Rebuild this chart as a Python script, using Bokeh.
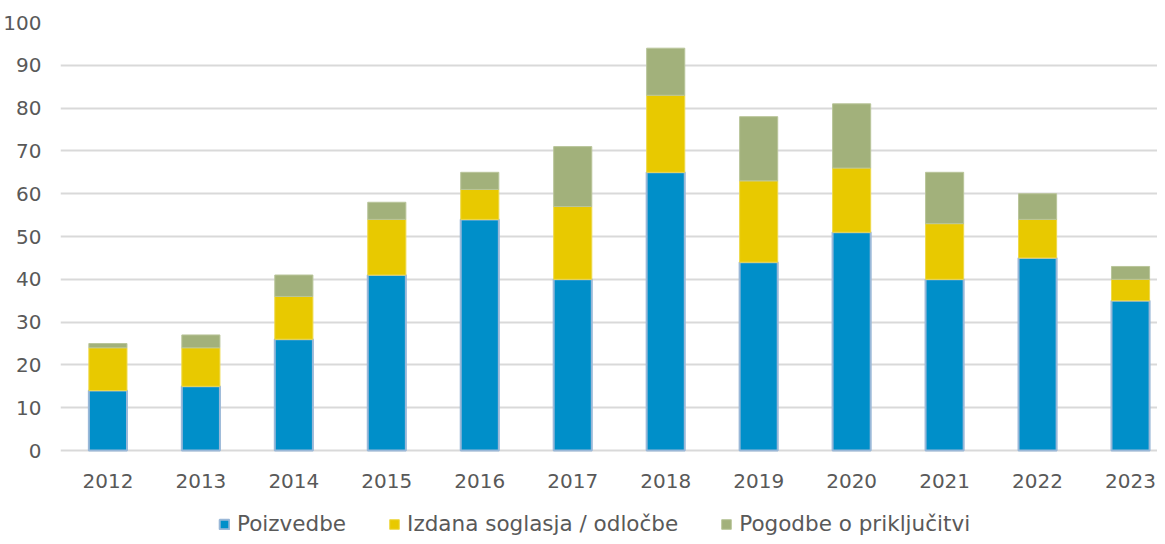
from bokeh.plotting import figure
from bokeh.models import ColumnDataSource, Legend, LegendItem, FixedTicker
from bokeh.core.properties import value
from bokeh.embed import file_html
from bokeh.resources import INLINE

years = ["2012", "2013", "2014", "2015", "2016", "2017", "2018", "2019", "2020", "2021", "2022", "2023"]
poizvedbe = [14, 15, 26, 41, 54, 40, 65, 44, 51, 40, 45, 35]
izdana = [10, 9, 10, 13, 7, 17, 18, 19, 15, 13, 9, 5]
pogodbe = [1, 3, 5, 4, 4, 14, 11, 15, 15, 12, 6, 3]
series_names = ["Poizvedbe", "Izdana soglasja / odločbe", "Pogodbe o priključitvi"]
y_ticks = [0, 10, 20, 30, 40, 50, 60, 70, 80, 90, 100]

FONT = "DejaVu Sans"
TXT = "#595959"

xs = list(range(len(years)))
src = ColumnDataSource(dict(x=xs, a=poizvedbe, b=izdana, c=pogodbe, year=years))

# frame spans from the top gridline to the bottom of the page; the area below 0
# holds the category labels and the legend
p = figure(width=1157, height=536,
           min_border_left=59, min_border_top=22, min_border_right=0, min_border_bottom=0,
           x_range=(-0.51, 11.29), y_range=(-20.09, 100),
           x_axis_location=None,
           output_backend="svg", toolbar_location=None)
p.outline_line_color = None
p.background_fill_color = "white"

r = p.vbar_stack(["a", "b", "c"], x="x", width=0.41, source=src,
                 color=["#008fc9", "#e8c900", "#a2b17b"],
                 line_color=["#9ab8d8", "#eed94a", "#b9c59a"],
                 line_width=[2, 1, 1])

# category labels under the baseline
p.text(x="x", y=0, text="year", source=src, y_offset=30,
       text_align="center", text_baseline="middle",
       text_font=value(FONT), text_font_size="20px", text_color=TXT)

# y axis
p.yaxis.ticker = FixedTicker(ticks=y_ticks)
ax = p.yaxis[0]
ax.axis_line_color = None
ax.major_tick_line_color = None
ax.minor_tick_line_color = None
ax.major_label_text_font = FONT
ax.major_label_text_font_size = "20px"
ax.major_label_text_color = TXT
ax.major_label_standoff = 13
p.xgrid.grid_line_color = None
p.ygrid.grid_line_color = "#d9d9d9"
p.ygrid.grid_line_width = 2

legend = Legend(items=[LegendItem(label=series_names[i], renderers=[r[i]]) for i in range(3)],
                orientation="horizontal", location=(158, 0),
                glyph_width=12, glyph_height=12, label_standoff=7, spacing=42,
                margin=0, padding=0, border_line_color=None, background_fill_alpha=0,
                label_text_font=FONT, label_text_font_size="21.5px", label_text_color=TXT,
                label_height=20)
p.add_layout(legend, "center")

open("out.html", "w").write(file_html(p, INLINE))
